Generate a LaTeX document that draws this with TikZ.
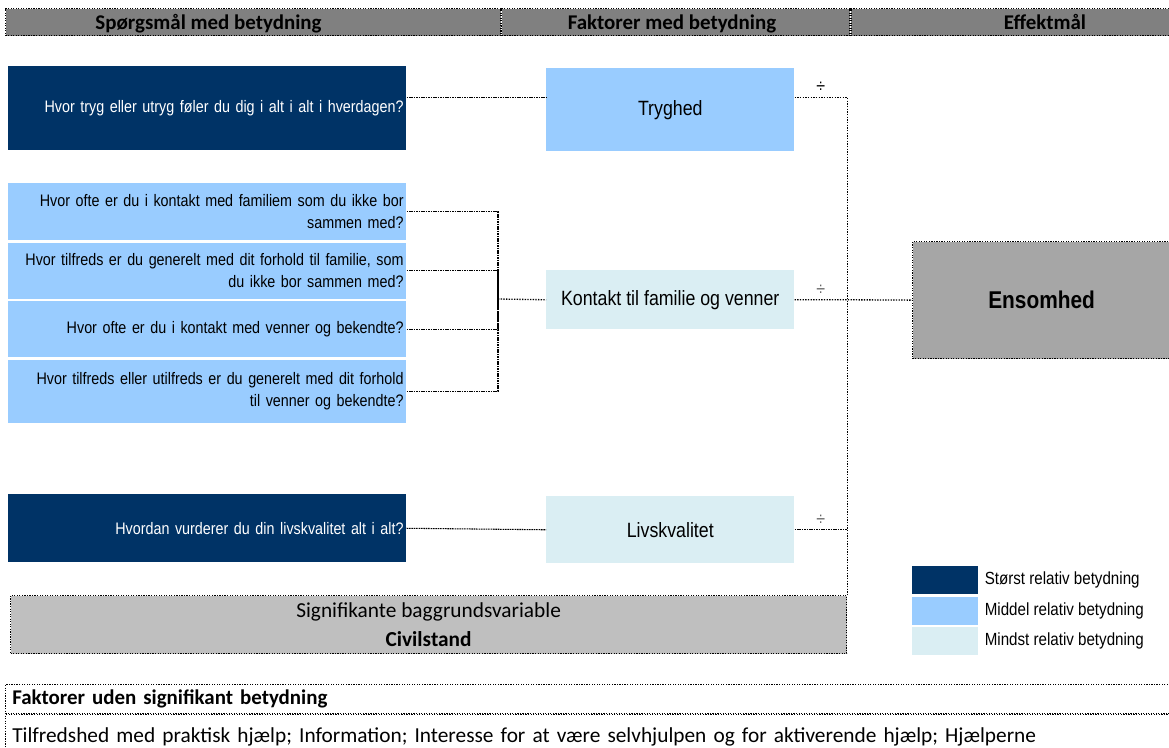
\documentclass[tikz,border=0pt]{standalone}
\usepackage{fontspec}
\usepackage{tikz}
\usetikzlibrary{positioning}
\newfontfamily\xlsans[FakeStretch=0.86]{Liberation Sans}
\newfontfamily\calib{Carlito}
\definecolor{navy}{RGB}{0,51,102}
\definecolor{midblue}{RGB}{153,204,255}
\definecolor{paleblue}{RGB}{218,238,243}
\definecolor{hdrgray}{RGB}{128,128,128}
\definecolor{effgray}{RGB}{166,166,166}
\definecolor{baggray}{RGB}{191,191,191}

\begin{document}
\begin{tikzpicture}[x=0.75pt, y=-0.75pt,
  frame/.style={draw, densely dotted, line width=0.9pt},
  hcell/.style={frame, fill=hdrgray, minimum height=20.25pt, inner sep=0pt, anchor=north west},
  htext/.style={anchor=base, font=\calib\bfseries\fontsize{15.7}{18}\selectfont},
  qbox/.style={anchor=north west, minimum width=298.5pt, text width=294.5pt, inner xsep=2pt, inner ysep=0pt, align=right, font=\xlsans\fontsize{12.5}{16.5}\selectfont},
  fbox/.style={anchor=north west, minimum width=186pt, inner sep=0pt, font=\xlsans\fontsize{15.5}{18}\selectfont},
  strong/.style={fill=navy, text=white},
  middle/.style={fill=midblue},
  weak/.style={fill=paleblue},
  swatch/.style={minimum width=49.5pt, minimum height=21pt, inner sep=0pt},
  legtext/.style={inner sep=0pt, font=\xlsans\fontsize{13.2}{15}\selectfont},
  link/.style={dash pattern=on 1.2pt off 0.6pt, line width=0.8pt},
  rlink/.style={densely dotted, line width=1pt},
  sgn/.style={above=3pt, inner sep=0pt, font=\xlsans\fontsize{14}{16}\selectfont}]
\useasboundingbox (0,0) rectangle (1169,747);

% header row
\node[hcell, minimum width=371.25pt] (hq) at (5,8) {};
\node[hcell, minimum width=261pt, right=0pt of hq] (hf) {};
\node[hcell, minimum width=243pt, right=0pt of hf] (he) {};
\node[htext] (hqt) at (208.5,29) {Spørgsmål med betydning};
\node[htext] (hft) at (672,29) {Faktorer med betydning};
\node[htext] (het) at (1045,29) {Effektmål};

% questions
\node[qbox, strong, minimum height=63pt] (qtryg) at (8,66) {Hvor tryg eller utryg føler du dig i alt i alt i hverdagen?};
\node[qbox, middle, minimum height=42.75pt] (qfam1) at (8,183) {Hvor ofte er du i kontakt med familiem som du ikke bor\hspace*{3pt}\\ sammen med?};
\node[qbox, middle, minimum height=42pt, below=1.5pt of qfam1] (qfam2) {Hvor tilfreds er du generelt med dit forhold til familie, som\hspace*{3pt}\\ du ikke bor sammen med?};
\node[qbox, middle, minimum height=42pt, below=1.5pt of qfam2] (qven1) {Hvor ofte er du i kontakt med venner og bekendte?};
\node[qbox, middle, minimum height=47pt, below=1.5pt of qven1] (qven2) {Hvor tilfreds eller utilfreds er du generelt med dit forhold\hspace*{3pt}\\ til venner og bekendte?};
\node[qbox, strong, minimum height=51pt] (qliv) at (8,494) {Hvordan vurderer du din livskvalitet alt i alt?};

% factors
\node[fbox, middle, minimum height=62.25pt] (ftryg) at (546,68) {Tryghed};
\node[fbox, weak, minimum height=44.25pt] (fkon) at (546,270) {Kontakt til familie og venner};
\node[fbox, weak, minimum height=50.25pt] (fliv) at (546,496) {Livskvalitet};

% outcome
\node[frame, fill=effgray, anchor=north west, minimum width=193.5pt, minimum height=87.75pt, font=\xlsans\bfseries\fontsize{18.2}{20}\selectfont] (ens) at (912,241) {Ensomhed};

% background variables
\node[frame, fill=baggray, anchor=north west, minimum width=627pt, minimum height=43.5pt, align=center, font=\calib\fontsize{16}{21.5}\selectfont] (bag) at (10,595) {Signifikante baggrundsvariable\\ \textbf{Civilstand}};

% legend
\node[swatch, strong, anchor=north west] (sw1) at (912,566) {};
\node[swatch, middle, below=1.5pt of sw1] (sw2) {};
\node[swatch, weak, below=1.5pt of sw2] (sw3) {};
\node[legtext, right=4.5pt of sw1] (lg1) {Størst relativ betydning};
\node[legtext, right=4.5pt of sw2] (lg2) {Middel relativ betydning};
\node[legtext, right=4.5pt of sw3] (lg3) {Mindst relativ betydning};

% factors without significance
\node[frame, anchor=north west, minimum width=875.25pt, minimum height=21.75pt, text width=865.25pt, inner xsep=5pt, inner ysep=0pt, align=left, font=\calib\bfseries\fontsize{15.7}{18}\selectfont] (fu) at (5,684) {Faktorer uden signifikant betydning};
\node[frame, minimum width=875.25pt, minimum height=33pt, text width=865.25pt, inner xsep=5pt, inner ysep=0pt, align=left, font=\calib\fontsize{16}{19}\selectfont, below=0pt of fu] (fut) {Tilfredshed med praktisk hjælp; Information; Interesse for at være selvhjulpen og for aktiverende hjælp; Hjælperne};

% connectors left
\coordinate (tj) at ([yshift=8.25pt]qtryg.east);
\draw[link] (tj) -- (tj -| ftryg.west);
\coordinate (brk) at (498,299);
\foreach \q in {qfam1,qfam2,qven1,qven2}
  \draw[link] (\q.east) -| (brk);
\draw[rlink] (brk) -- (fkon.west);
\draw[link] (qliv.east) -- (fliv.west);

% connectors right
\coordinate (rtop) at (tj -| bag.north east);
\draw[rlink] (tj -| ftryg.east) -- node[sgn] {÷} (rtop) -- (bag.north east);
\draw[rlink] (fkon.east) -- node[sgn, text=black!60] {÷} (fkon.east -| rtop) -- (ens.west);
\draw[link] (fliv.east) -- node[sgn, text=black!60] {÷} (fliv.east -| rtop);
\end{tikzpicture}
\end{document}
